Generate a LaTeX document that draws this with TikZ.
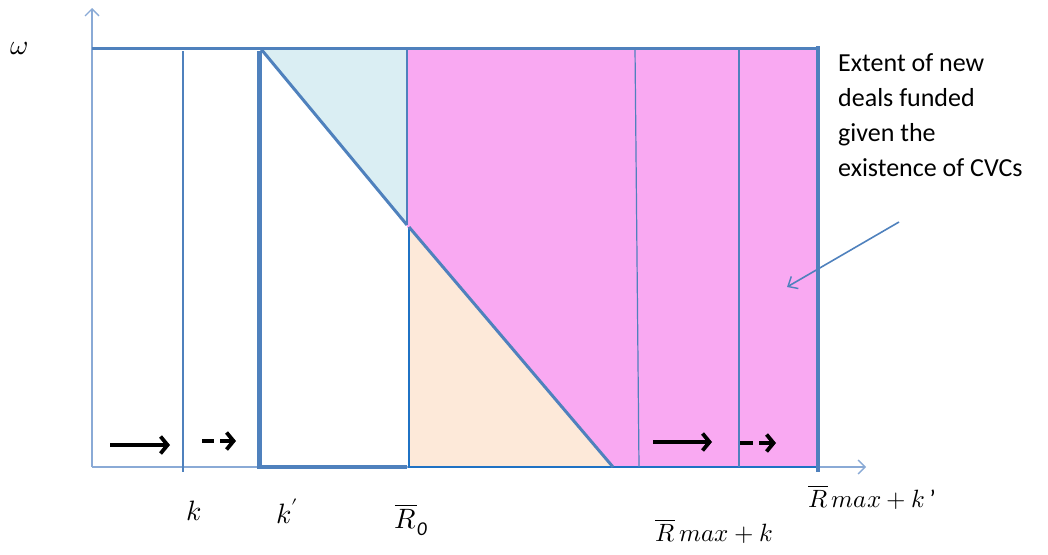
\documentclass[tikz,border=0pt]{standalone}
\usepackage{fontspec}
\usepackage{unicode-math}
\setmainfont{Carlito}
\setmathfont{Latin Modern Math}
\usetikzlibrary{arrows.meta}

\definecolor{lineblue}{HTML}{4F81BD}
\definecolor{axisblue}{HTML}{8AAAD6}
\definecolor{edgeblue}{HTML}{1F72C4}
\definecolor{paleblue}{HTML}{DAEEF3}
\definecolor{dealpink}{HTML}{F9A9F2}
\definecolor{peach}{HTML}{FDE9D9}

\tikzset{
    axisline/.style={axisblue, line width=1.5pt, -{Straight Barb[length=7pt,width=14pt,line width=1.3pt]}},
    bound/.style={lineblue, line width=3pt},
    thinbound/.style={lineblue, line width=1.6pt},
    move/.style={black, line width=3.8pt, -{Straight Barb[length=7pt,width=17pt,line width=3.8pt]}},
    mathlabel/.style={font=\fontsize{28}{30}\selectfont, inner sep=0pt},
}

\begin{document}
\begin{tikzpicture}[x=1pt, y=-1pt]
    \useasboundingbox (0,0) rectangle (1048,554);

    % shaded regions
    \fill[dealpink] (407,48) -- (818,48) -- (818,467) -- (612,467) -- (407,227) -- cycle;
    \fill[paleblue] (261,49) -- (407,49) -- (407,225) -- cycle;
    \fill[peach] (409,227) -- (409,467) -- (613,467) -- cycle;

    % axes
    \draw[axisline] (92,467) -- (866,467);
    \draw[axisline] (92,467) -- (92,8);

    % bounds
    \draw[bound] (92,48) -- (818,48);
    \draw[thinbound] (183,51) -- (183,472);
    \draw[lineblue, line width=5pt] (259,51) -- (259,469);
    \draw[lineblue, line width=4pt] (259,467) -- (407,467);
    \draw[thinbound] (407,48) -- (407,225);
    \draw[bound] (261,49) -- (407,225);
    \draw[edgeblue, line width=2.5pt] (409,227) -- (409,467) -- (818,467);
    \draw[bound] (409,227) -- (613,467);
    \draw[thinbound, line width=1.2pt] (635,48) -- (639,467);
    \draw[thinbound] (739,48) -- (739,467);
    \draw[lineblue, line width=4pt] (818,46) -- (818,472);

    % shifts
    \draw[move] (110,445) -- (170,445);
    \draw[black, line width=3.8pt] (202,441) -- (214,441);
    \draw[move] (220,441) -- (236,441);
    \draw[move] (653,442) -- (712,442);
    \draw[black, line width=3.8pt] (740,443) -- (753,443);
    \draw[move] (759,443) -- (776,443);

    % labels
    \node[mathlabel] (omega) at (19,48) {$ω$};
    \node[mathlabel] (klab) at (194,511) {$k$};
    \node[mathlabel] (kplab) at (287,511) {$k'$};
    \node[mathlabel] (rzero) at (411,520) {$\overline{R}_{\mathit{0}}$};
    \node[mathlabel, font=\fontsize{25}{30}\selectfont] (rmaxkp) at (872,497) {$\overline{R}\,max+k\,\text{'}$};
    \node[mathlabel, font=\fontsize{25}{30}\selectfont] (rmaxk) at (714,531) {$\overline{R}\,max+k$};

    % annotation
    \node[anchor=north west, align=left, inner sep=0pt, font=\fontsize{26}{35}\selectfont]
        (note) at (838,53) {Extent of new\\deals funded\\given the\\existence of CVCs};
    \coordinate (tail) at (899,222);
    \coordinate (target) at (787,287);
    \draw[lineblue, line width=1.6pt, -{Straight Barb[length=8pt,width=14pt,line width=1.4pt]}] (tail) -- (target);
\end{tikzpicture}
\end{document}
